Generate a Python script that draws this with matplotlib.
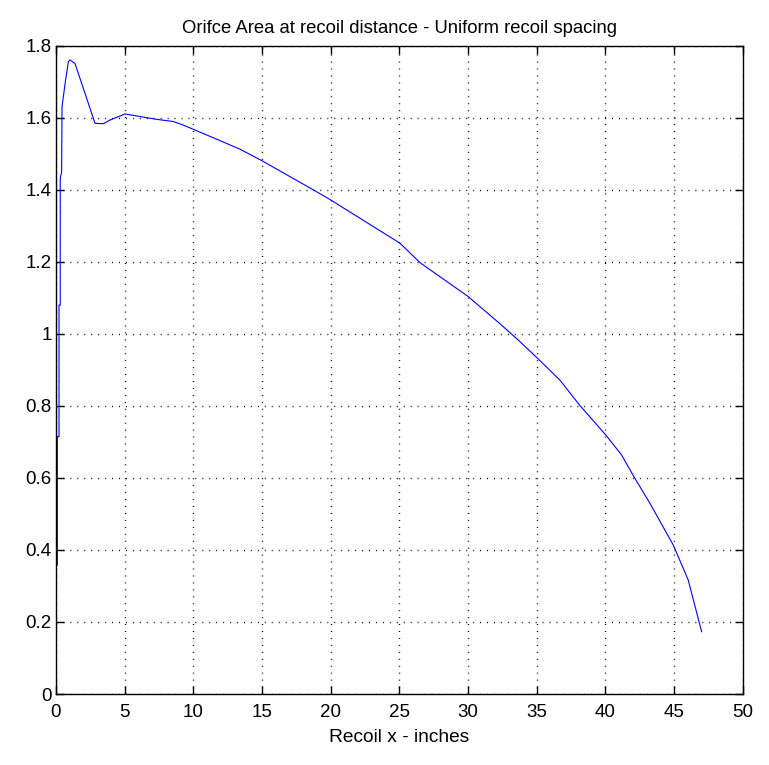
import numpy as np
import matplotlib
matplotlib.use("Agg")
import matplotlib.pyplot as plt
from matplotlib import font_manager

# recoil position (in) and orifice area along the stroke
recoil_x = [0.1, 0.1, 0.22, 0.22, 0.31, 0.31, 0.41, 0.44, 0.65, 0.9, 1.02,
            1.38, 1.87, 2.84, 3.44, 3.93, 5.02, 6.1, 7.33, 8.54, 9.27, 11.94,
            13.4, 15.0, 18.97, 20.0, 25.04, 26.5, 30.0, 32.3, 33.65, 34.93,
            36.68, 38.1, 40.03, 41.17, 42.14, 43.23, 44.93, 46.02, 47.0]
orifice_area = [0.358, 0.715, 0.715, 1.08, 1.08, 1.433, 1.45, 1.631, 1.692,
                1.756, 1.761, 1.751, 1.696, 1.585, 1.584, 1.594, 1.611, 1.604,
                1.596, 1.59, 1.58, 1.537, 1.513, 1.481, 1.395, 1.372, 1.252,
                1.198, 1.104, 1.029, 0.983, 0.937, 0.872, 0.803, 0.719, 0.664,
                0.599, 0.53, 0.414, 0.317, 0.173]

x_ticks = np.arange(0, 51, 5)
y_ticks = [0, 0.2, 0.4, 0.6, 0.8, 1, 1.2, 1.4, 1.6, 1.8]
y_tick_labels = ['0', '0.2', '0.4', '0.6', '0.8', '1', '1.2', '1.4', '1.6', '1.8']

installed = {f.name for f in font_manager.fontManager.ttflist}
family = 'Liberation Sans Narrow' if 'Liberation Sans Narrow' in installed else 'Liberation Sans'
plt.rcParams['font.family'] = [family, 'DejaVu Sans']

fig = plt.figure(figsize=(7.69, 7.65), dpi=100)
ax = fig.add_axes([0.0728, 0.0928, 0.8932, 0.8472])

ax.plot(recoil_x, orifice_area, color='#0000ff', lw=0.8)

ax.set_xlim(0, 50)
ax.set_ylim(0, 1.8)
ax.set_xticks(x_ticks)
ax.set_yticks(y_ticks)
ax.set_yticklabels(y_tick_labels)
ax.tick_params(direction='in', length=6, width=1, top=True, right=True,
               labelsize=13.5, colors='black')
ax.tick_params(axis='x', pad=7)
ax.tick_params(axis='y', pad=3)
for s in ax.spines.values():
    s.set_linewidth(1.0)
ax.grid(True, color='black', lw=1.0, ls=(0, (0.7, 4.3)))

ax.set_title('Orifce Area at recoil distance - Uniform recoil spacing',
             fontsize=13.3, pad=9)
ax.set_xlabel('Recoil x - inches', fontsize=13.8, labelpad=6)

fig.savefig('out.png', dpi=100)
